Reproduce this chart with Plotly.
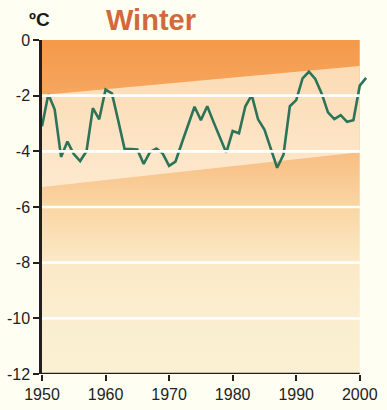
import plotly.graph_objects as go

years = list(range(1950, 2002))
temps = [-3.1, -1.95, -2.5, -4.2, -3.65, -4.1, -4.35, -4.0, -2.45, -2.85,
         -1.78, -1.92, -2.9, -3.92, -3.92, -3.93, -4.45, -4.02, -3.9, -4.08,
         -4.52, -4.37, -3.7, -3.05, -2.4, -2.88, -2.38, -2.95, -3.5, -4.05,
         -3.27, -3.35, -2.38, -1.98, -2.85, -3.22, -3.9, -4.59, -4.12, -2.38,
         -2.16, -1.38, -1.14, -1.4, -1.92, -2.6, -2.84, -2.7, -2.94, -2.88,
         -1.64, -1.36]

band_years = [1950, 2000]
band_upper = [-1.98, -0.93]
band_lower = [-5.28, -4.03]

x_ticks = [1950, 1960, 1970, 1980, 1990, 2000]
y_ticks = [0, -2, -4, -6, -8, -10, -12]

PAPER = "#FFFEF3"
FONT = "Liberation Sans, Arial, sans-serif"

fig = go.Figure()

# background gradient of the whole plot area
fig.add_trace(go.Scatter(
    x=[1950, 2000, 2000, 1950, 1950], y=[-12, -12, 0, 0, -12],
    mode="lines", line=dict(width=0), fill="toself",
    fillgradient=dict(type="vertical", start=-12, stop=0,
                      colorscale=[[0, "#FBF0D2"], [1/6, "#FBEED0"], [2/6, "#FBE9C6"],
                                  [3/6, "#FAD6A4"], [4/6, "#F8BD82"], [5/6, "#F6A760"],
                                  [1, "#F5994A"]]),
    hoverinfo="skip", showlegend=False))

# lighter band between the trend lines
fig.add_trace(go.Scatter(
    x=band_years + band_years[::-1] + [band_years[0]],
    y=band_lower + band_upper[::-1] + [band_lower[0]],
    mode="lines", line=dict(width=0), fill="toself",
    fillgradient=dict(type="vertical", start=-5.3, stop=-0.9,
                      colorscale=[[0, "#FDE9CE"], [1, "#FBDBB4"]]),
    hoverinfo="skip", showlegend=False))

# white gridlines
for v in [-2, -4, -6, -8, -10]:
    fig.add_shape(type="line", x0=1950, x1=2000, y0=v, y1=v,
                  line=dict(color="white", width=2.7), layer="above")

fig.add_trace(go.Scatter(
    x=years, y=temps, mode="lines",
    line=dict(color="#2B7459", width=2.6),
    hoverinfo="skip", showlegend=False))

# x axis line ending at 2000
fig.add_shape(type="line", x0=1950, x1=2000, y0=-12, y1=-12,
              line=dict(color="#231F20", width=2.5), layer="above")

fig.update_layout(
    width=387, height=410,
    margin=dict(l=42, r=5, t=40, b=36),
    paper_bgcolor=PAPER, plot_bgcolor=PAPER,
    font=dict(family=FONT, color="#222222", size=16),
    hovermode=False,
    xaxis=dict(range=[1950, 2003.5], tickvals=x_ticks, ticktext=[str(t) for t in x_ticks],
               showgrid=False, zeroline=False, showline=False, fixedrange=True,
               ticks="outside", ticklen=6, tickwidth=2, tickcolor="#231F20"),
    yaxis=dict(range=[-12, 0], tickvals=y_ticks, ticktext=[str(t) for t in y_ticks],
               showgrid=False, zeroline=False, showline=True, linecolor="#231F20",
               linewidth=2.7, ticks="outside", ticklen=6, tickwidth=2,
               tickcolor="#231F20", fixedrange=True),
    annotations=[
        dict(text="<b>Winter</b>", x=151, y=20, xref="paper", yref="paper",
             showarrow=False, font=dict(size=29, color="#D2693A", family=FONT)),
        dict(text="<b>ºC</b>", x=39.5, y=19, xref="paper", yref="paper",
             showarrow=False, font=dict(size=19, color="#1a1a1a", family=FONT)),
    ],
)

# convert the annotation pixel positions into paper coordinates
pw = 387 - 42 - 5
ph = 410 - 40 - 36
for a in fig.layout.annotations:
    px, py = a.x, a.y
    a.x = (px - 42) / pw
    a.y = 1 + (40 - py) / ph
    a.xanchor = "center"
    a.yanchor = "middle"

fig.write_html("out.html", config={"displayModeBar": False, "staticPlot": True},
               post_script="document.body.style.margin='0';document.body.style.padding='0';")
